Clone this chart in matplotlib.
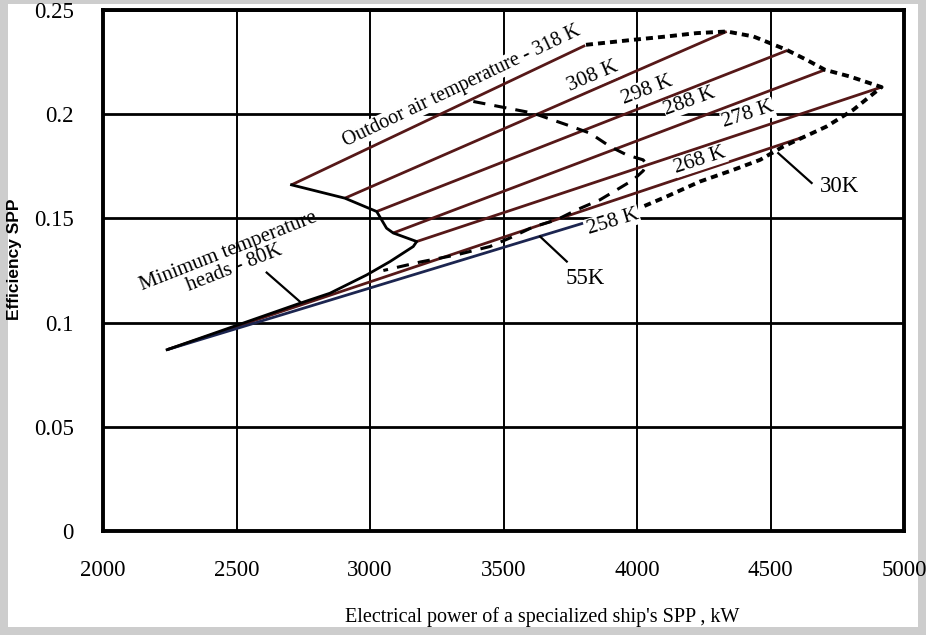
import matplotlib.pyplot as plt
from matplotlib.patches import Rectangle

# temperature lines: start and end points (kW, efficiency)
temp_names = ['318 K', '308 K', '298 K', '288 K', '278 K', '268 K', '258 K']
start_kw = [2706, 2906, 3025, 3087, 3175, 2240, 2240]
start_eff = [0.1661, 0.1597, 0.1533, 0.1430, 0.1389, 0.0870, 0.0870]
end_kw = [3806, 4336, 4563, 4704, 4916, 4629, 3798]
end_eff = [0.2330, 0.2397, 0.2306, 0.2213, 0.2130, 0.1893, 0.1477]

# minimum temperature heads - 80K (solid boundary)
min_kw = [2706, 2906, 3025, 3062, 3087, 3175, 3162, 3075, 2988, 2850, 2738, 2240]
min_eff = [0.1661, 0.1597, 0.1533, 0.1453, 0.1430, 0.1389, 0.1365, 0.1293,
           0.1229, 0.1141, 0.1093, 0.0870]

# 30K outer dashed boundary
b30_kw = [3809, 3986, 4111, 4223, 4336, 4436, 4560, 4635, 4704, 4797, 4916,
          4872, 4810, 4710, 4629, 4548, 4461, 4361, 4236, 4111, 4023]
b30_eff = [0.2333, 0.2357, 0.2373, 0.2389, 0.2397, 0.2373, 0.2309, 0.2261,
           0.2213, 0.2181, 0.2130, 0.2085, 0.2021, 0.1941, 0.1893, 0.1845,
           0.1781, 0.1733, 0.1677, 0.1605, 0.1557]

# 55K dashed boundary
b55_kw = [3387, 3611, 3737, 3824, 3899, 3961, 4023, 4036, 4023, 3986, 3924,
          3861, 3774, 3699, 3611, 3524, 3449, 3324, 3189, 3050]
b55_eff = [0.2061, 0.2005, 0.1949, 0.1909, 0.1845, 0.1805, 0.1781, 0.1757,
           0.1728, 0.1685, 0.1637, 0.1589, 0.1541, 0.1493, 0.1459, 0.1406,
           0.1365, 0.1325, 0.1291, 0.1250]

x_ticks = [2000, 2500, 3000, 3500, 4000, 4500, 5000]
y_ticks = [0, 0.05, 0.1, 0.15, 0.2, 0.25]
y_tick_labels = ['0', '0.05', '0.1', '0.15', '0.2', '0.25']

serif = 'Liberation Serif'
line_col = '#561818'
navy = '#1c2550'

fig = plt.figure(figsize=(9.26, 6.35), dpi=100)
fig.patch.set_facecolor('#cdcdcd')
paper = Rectangle((8 / 926, 1 - 627 / 635), 910 / 926, 623 / 635,
                  transform=fig.transFigure, facecolor='white',
                  edgecolor='none', zorder=-10)
fig.patches.append(paper)

ax = fig.add_axes([103 / 926, 1 - 531 / 635, 801 / 926, 521 / 635])
ax.set_zorder(1)
ax.set_xlim(2000, 5000)
ax.set_ylim(0, 0.25)
ax.set_xticks(x_ticks)
ax.set_xticklabels([str(v) for v in x_ticks], fontfamily=serif, fontsize=16.5)
ax.set_yticks(y_ticks)
ax.set_yticklabels(y_tick_labels, fontfamily=serif, fontsize=16.5)
ax.tick_params(axis='x', length=0, pad=21)
ax.tick_params(axis='y', length=0, pad=21)
ax.set_axisbelow(True)
ax.yaxis.grid(True, color='black', linewidth=2.0)
ax.xaxis.grid(True, color='black', linewidth=1.4)
for s in ax.spines.values():
    s.set_linewidth(2.8)

# temperature lines
for i in range(len(temp_names)):
    c = navy if temp_names[i] == '258 K' else line_col
    ax.plot([start_kw[i], end_kw[i]], [start_eff[i], end_eff[i]],
            color=c, linewidth=2.0, zorder=3, solid_capstyle='butt')

ax.plot(min_kw, min_eff, color='black', linewidth=2.0, zorder=3)
ax.plot(b30_kw, b30_eff, color='black', linewidth=2.8, zorder=3,
        linestyle=(0, (1.8, 1.3)))
ax.plot(b55_kw, b55_eff, color='black', linewidth=2.2, zorder=3,
        linestyle=(0, (4, 3)))

# labels on the lines
box = dict(facecolor='white', edgecolor='none', pad=0.5)
lab = [('308 K', 3835, 0.2180, 23),
       ('298 K', 4037, 0.2117, 21),
       ('288 K', 4198, 0.2060, 20),
       ('278 K', 4416, 0.1997, 18),
       ('268 K', 4236, 0.1780, 18),
       ('258 K', 3910, 0.1485, 17)]
for t, x, y, r in lab:
    ax.text(x, y, t, fontfamily=serif, fontsize=15.5, rotation=r,
            ha='center', va='center', bbox=box, zorder=5)

ax.text(3345, 0.2135, 'Outdoor air temperature - 318 K', fontfamily=serif,
        fontsize=14.5, rotation=25.5, ha='center', va='center', bbox=box,
        zorder=5)
ax.text(2480, 0.1300, 'Minimum temperature\nheads - 80K', fontfamily=serif,
        fontsize=15, rotation=21.5, ha='center', va='center',
        linespacing=0.9, zorder=5)
ax.text(3805, 0.1213, '55K', fontfamily=serif, fontsize=16.5,
        ha='center', va='center', zorder=5)
ax.text(4760, 0.1653, '30K', fontfamily=serif, fontsize=16.5,
        ha='center', va='center', zorder=5)

# pointer lines
ax.plot([2613, 2738], [0.124, 0.110], color='black', linewidth=1.6, zorder=4)
ax.plot([3637, 3737], [0.1413, 0.1293], color='black', linewidth=1.6, zorder=4)
ax.plot([4529, 4654], [0.1813, 0.1670], color='black', linewidth=1.6, zorder=4)

fig.text(542 / 926, 1 - 617 / 635, "Electrical power of a specialized ship's SPP , kW",
         fontfamily=serif, fontsize=14.5, ha='center', va='center')
fig.text(15 / 926, 1 - 259 / 635, 'Efficiency SPP', fontfamily='Liberation Sans',
         fontweight='bold', fontsize=12.5, rotation=90, ha='center', va='center')

fig.savefig('out.png', dpi=100, facecolor=fig.get_facecolor())
